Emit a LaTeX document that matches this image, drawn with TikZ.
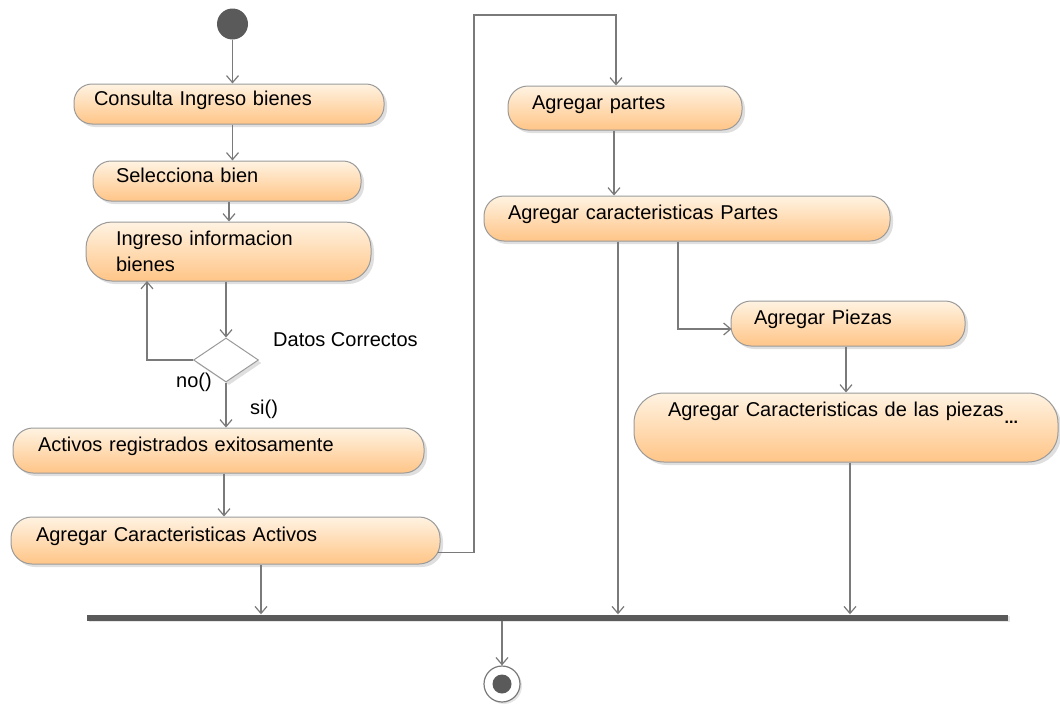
\documentclass[tikz,border=0pt]{standalone}
\usepackage{fontspec}
\setmainfont{Liberation Sans}
\usetikzlibrary{arrows.meta,shapes.geometric,shadows,calc}
\definecolor{linegray}{HTML}{7A7A7A}
\definecolor{boxborder}{HTML}{9A9A9A}
\definecolor{boxtop}{HTML}{FFF3E2}
\definecolor{boxbot}{HTML}{FFC587}
\definecolor{darknode}{HTML}{5A5A5A}
\tikzset{
  act/.style n args={4}{draw=boxborder, line width=1pt, rounded corners=#4,
    top color=boxtop, bottom color=boxbot,
    drop shadow={shadow xshift=3pt, shadow yshift=-3pt, opacity=0.25, fill=gray},
    minimum width=#1, minimum height=#2, inner ysep=0pt, inner xsep=#3,
    align=left, font=\fontsize{20}{26}\selectfont},
  up/.style={text height=15pt, text depth=13pt},
  arr/.style={draw=linegray, line width=1.2pt, -{Straight Barb[length=7pt,width=12pt]}},
  lbl/.style={font=\fontsize{20}{24}\selectfont, inner sep=0pt, anchor=west}
}
\begin{document}
\begin{tikzpicture}[x=1pt,y=-1pt]
\useasboundingbox (0,0) rectangle (1060,704);

% initial node
\node[circle, fill=darknode, minimum size=31pt, inner sep=0pt] (init) at (232.5,24) {};

% actions
\node[act={310pt}{40pt}{20pt}{18pt}, up, text width=270pt] (c1) at (229,104) {Consulta Ingreso bienes};
\node[act={268pt}{40pt}{23pt}{18pt}, up, text width=222pt] (c2) at (227,181) {Selecciona bien};
\node[act={285pt}{59pt}{30pt}{26pt}, text width=225pt] (c3) at (228.5,251.5) {Ingreso informacion\\bienes};
\node[diamond, draw=boxborder, fill=white, line width=1pt, minimum width=65pt, minimum height=44pt, inner sep=0pt,
      drop shadow={shadow xshift=3pt, shadow yshift=-3pt, opacity=0.25, fill=gray}] (d) at (226,360) {};
\node[act={411pt}{45pt}{25pt}{20pt}, up, text width=361pt] (c4) at (218.5,450.5) {Activos registrados exitosamente};
\node[act={429pt}{47pt}{25pt}{21pt}, up, text width=379pt] (c5) at (225.5,540.5) {Agregar Caracteristicas Activos};

\node[act={234pt}{44pt}{24pt}{20pt}, up, text width=186pt] (c6) at (625,108) {Agregar partes};
\node[act={406pt}{45pt}{24pt}{20pt}, up, text width=358pt] (c7) at (687,218.5) {Agregar caracteristicas Partes};
\node[act={234pt}{45pt}{23pt}{20pt}, up, text width=188pt] (c8) at (848,323.5) {Agregar Piezas};
\node[act={424pt}{69pt}{34pt}{30pt}, text width=356pt] (c9) at (846,427.5) {Agregar Caracteristicas de las piezas\rlap{\hspace{1pt}\raisebox{-7pt}{\fontsize{16}{16}\selectfont\textbf{...}}}\\[10pt]~};

% labels
\node[lbl] (lDatos) at (273,340) {Datos Correctos};
\node[lbl] (lno) at (176,382) {no()};
\node[lbl] (lsi) at (250,409) {si()};

% synchronisation bar
\node[rectangle, fill=darknode, minimum width=921pt, minimum height=6pt, inner sep=0pt,
      drop shadow={shadow xshift=1.5pt, shadow yshift=-1.5pt, opacity=0.2, fill=gray}] (bar) at (547.5,617.5) {};

% final node
\node[circle, draw=linegray, fill=white, line width=1.2pt, minimum size=36pt, inner sep=0pt,
      drop shadow={shadow xshift=2pt, shadow yshift=-2pt, opacity=0.2, fill=gray}] (fin) at (502,684) {};
\node[circle, fill=darknode, minimum size=19pt, inner sep=0pt] (finin) at (fin.center) {};

% connector anchor points
\coordinate (a2) at ($(c2.south)+(2,0)$);
\coordinate (a4) at ($(c4.south)+(5.5,0)$);
\coordinate (a5) at ($(c5.south)+(35.5,0)$);
\coordinate (a5e) at ($(c5.east)+(-3,12)$);
\coordinate (k1) at (474,15);
\coordinate (a6in) at ($(c6.north)+(-9,0)$);
\coordinate (a6) at ($(c6.south)+(-11,0)$);
\coordinate (a7a) at ($(c7.south)+(-69,0)$);
\coordinate (a7b) at ($(c7.south)+(-9,0)$);
\coordinate (a8in) at ($(c8.west)+(1,5.5)$);
\coordinate (a8) at ($(c8.south)+(-2,0)$);
\coordinate (a9) at ($(c9.south)+(4,0)$);
\coordinate (lp) at (147,281);

% connectors
\draw[arr] (init.south) -- (init.south |- c1.north);
\draw[arr] (c1.south -| init.center) -- (c2.north -| init.center);
\draw[arr] (a2) -- (a2 |- c3.north);
\draw[arr] (c3.south -| d.center) -- (d.north);
\draw[arr] (d.west) -| (lp);
\draw[arr] (d.south) -- (d.south |- c4.north);
\draw[arr] (a4) -- (a4 |- c5.north);
\draw[arr] (a5e) -| (k1) -| (a6in);
\draw[arr] (a6) -- (a6 |- c7.north);
\draw[arr] (a7a) -- (a7a |- bar.north);
\draw[arr] (a7b) |- (a8in);
\draw[arr] (a8) -- (a8 |- c9.north);
\draw[arr] (a9) -- (a9 |- bar.north);
\draw[arr] (a5) -- (a5 |- bar.north);
\draw[arr] (bar.south -| fin.center) -- (fin.north);
\end{tikzpicture}
\end{document}
